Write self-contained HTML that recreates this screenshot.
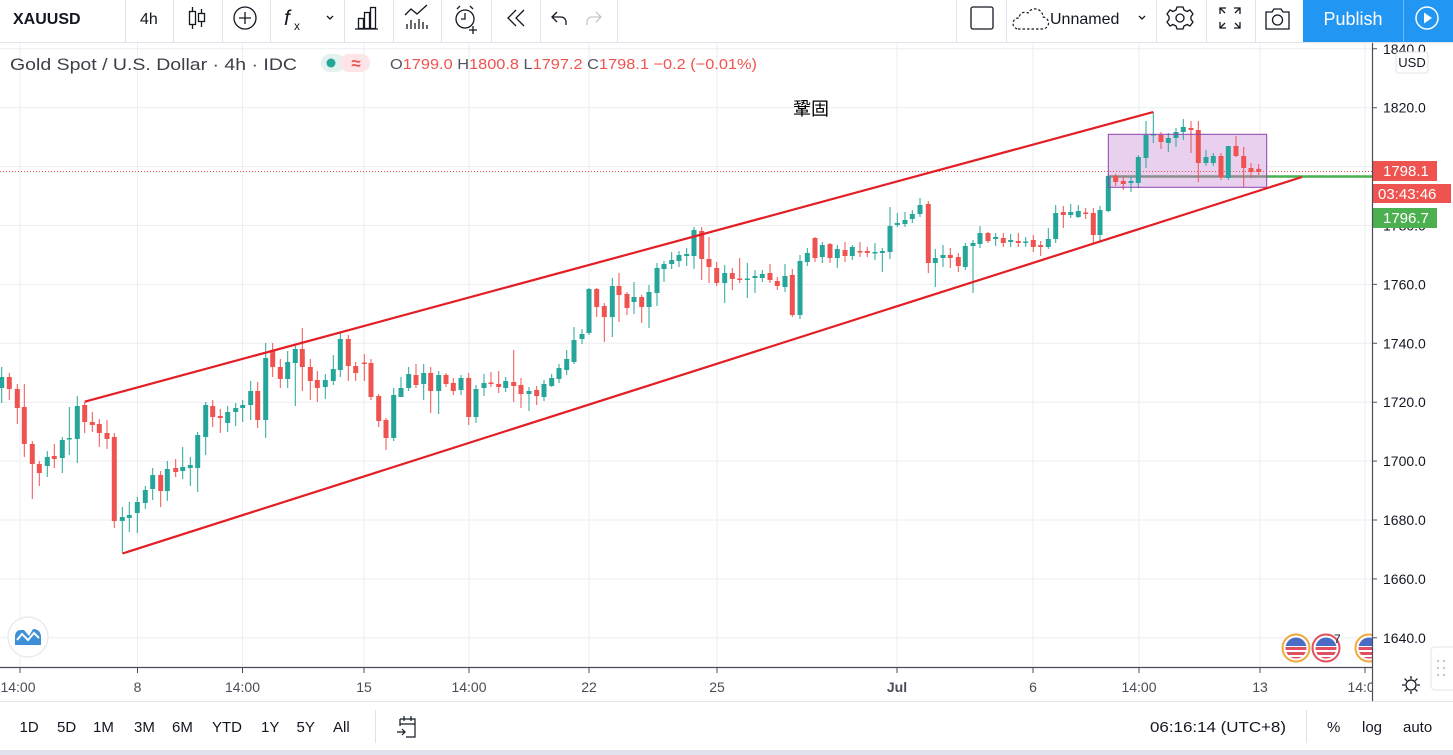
<!DOCTYPE html>
<html><head><meta charset="utf-8">
<style>
html,body{margin:0;padding:0;width:1453px;height:755px;overflow:hidden;background:#fff}
svg{display:block}
text{font-family:"Liberation Sans","Noto Sans CJK TC",sans-serif}
</style></head><body>
<svg width="1453" height="755" viewBox="0 0 1453 755" xmlns="http://www.w3.org/2000/svg">
<defs>
<clipPath id="cc"><rect x="0" y="43" width="1372" height="624"/></clipPath>
<clipPath id="pa"><rect x="1372" y="43" width="81" height="624"/></clipPath>
<clipPath id="xa"><rect x="0" y="668" width="1372" height="33"/></clipPath>
<clipPath id="flag"><circle cx="0" cy="0" r="10.5"/></clipPath>
</defs>
<rect width="1453" height="755" fill="#fff"/>

<!-- ===== CHART AREA ===== -->
<g clip-path="url(#cc)">
  <g stroke="#eceef2" stroke-width="1">
    <path d="M0 48.8H1372M0 107.7H1372M0 166.6H1372M0 225.5H1372M0 284.4H1372M0 343.3H1372M0 402.2H1372M0 461.1H1372M0 520H1372M0 578.9H1372M0 637.8H1372"/>
    <path d="M20 43V667M137.5 43V667M242.5 43V667M364 43V667M469 43V667M589 43V667M717 43V667M897 43V667M1033 43V667M1139 43V667M1260 43V667M1365 43V667"/>
  </g>
  <!-- rectangle fill -->
  <rect x="1108.3" y="134.3" width="158.4" height="53" fill="#ead0ef"/>
  <!-- green horizontal line -->
  <line x1="1108.3" y1="176.5" x2="1266.7" y2="176.5" stroke="#8d8d8d" stroke-width="2.5"/>
  <line x1="1266.7" y1="176.5" x2="1372" y2="176.5" stroke="#4caf50" stroke-width="2.5"/>
  <!-- dotted price line -->
  <line x1="0" y1="171.5" x2="1372" y2="171.5" stroke="#ef5350" stroke-width="1" stroke-dasharray="1 2"/>
  <!-- wicks -->
  <path stroke="#26a69a" stroke-width="1" fill="none" d="M1.7 367V403M47.3 451V477M62.3 437V473M69.3 407V455M77.3 396V463M122.3 507V553M129.3 502V532M137.3 497V533M145.3 486V509M152.7 468V500M167.3 461V501M182.7 447V479M190.3 457V486M197.7 432V492M205.7 402V455M227.7 406V432M235.7 403V426M242.7 400V422M250.7 381V420M265.7 343V438M287.7 351V388M295.3 344V406M325.3 374V399M333.3 355V385M340.3 333V377M393.7 388V441M401 377V397M408.7 367V391M423.7 364V400M438.7 371V414M461 375V395M476 385V423M484 374V396M505.7 377V392M529 387V411M544 380V401M551.7 374V387M559 364V383M566.7 350V375M574 327V364M582 329V344M589 288V335M612.3 278V337M634 282V314M649 285V328M657 263V306M664 261V282M671.7 252V269M679 251V267M686.7 248V266M694 227V269M724.7 265V303M747.3 263V298M755 270V293M762.3 270V282M785 264V292M800 255V319M807.3 248V266M822.3 242V263M837.3 245V268M852.3 245V260M875 243V260M882.3 248V272M890 207V259M897.3 213V227M905 212V227M912.3 210V223M920 198V217M935.3 249V287M943 245V267M965.3 243V270M973 240V293M980 226V248M995.7 233V246M1010.7 234V247M1025.7 237V247M1048.3 228V249M1055.7 205V243M1070.7 204V218M1078.3 205V218M1100 206V242M1108.3 174V212M1131 177V192M1138.3 155V188M1146 121V168M1153.3 112V143M1168.3 133V152M1176 128V147M1183.3 119V140M1206 150V166M1213.3 153V166M1228.3 146V180"/>
  <path stroke="#ef5350" stroke-width="1" fill="none" d="M9.3 373V400M17.3 384V424M24.3 384V457M32.3 441V499M39.3 461V486M54.3 444V468M84.7 402V433M92.3 412V432M99.3 419V447M107 420V449M114.3 433V528M160.7 471V507M175.7 459V477M212.7 400V427M220.3 409V433M257.7 382V428M272.7 343V377M280.3 359V388M302.3 328V391M310.3 359V400M317.3 371V402M348.3 335V381M355.7 362V381M364.3 354V381M371 359V400M378.7 394V427M386 418V450M416 364V388M430.7 367V413M446 373V387M453.3 378V395M468.7 373V425M491 372V387M498.7 371V393M513.7 350V402M521 378V408M536.7 386V405M596.7 288V317M604.3 303V342M619 273V322M627 292V315M641.7 295V323M701.7 227V280M709 237V283M716.7 262V286M732.3 268V290M739.7 258V283M770 264V283M777.3 277V290M792.3 269V317M815 237V262M830 243V263M845 242V262M860 242V257M867.3 247V257M928.3 201V273M950.3 248V268M958.3 253V272M988 232V243M1003.3 233V247M1018.3 233V247M1033.3 235V252M1040.7 241V256M1063.3 206V228M1085.7 208V219M1093.3 208V243M1115.7 174V186M1123.3 177V190M1161 132V149M1191 121V153M1198.3 121V182M1221 153V180M1236 136V157M1243.7 147V187M1251 163V178M1258.7 164V175"/>
  <!-- bodies -->
  <path fill="#26a69a" d="M-0.8 377h5v11h-5zM44.8 457h5v9h-5zM59.8 440h5v18h-5zM66.8 438h5v1.5h-5zM74.8 406h5v33h-5zM119.8 517h5v4h-5zM126.8 515h5v3h-5zM134.8 502h5v11h-5zM142.8 490h5v13h-5zM150.2 475h5v14h-5zM164.8 469h5v22h-5zM180.2 467h5v4h-5zM187.8 465h5v3h-5zM195.2 435h5v33h-5zM203.2 405h5v32h-5zM225.2 412h5v11h-5zM233.2 408h5v4h-5zM240.2 405h5v3h-5zM248.2 391h5v14h-5zM263.2 358h5v62h-5zM285.2 362h5v17h-5zM292.8 349h5v14h-5zM322.8 380h5v7h-5zM330.8 369h5v12h-5zM337.8 339h5v31h-5zM391.2 395h5v43h-5zM398.5 388h5v9h-5zM406.2 374h5v14h-5zM421.2 373h5v11h-5zM436.2 375h5v16h-5zM458.5 378h5v12h-5zM473.5 389h5v28h-5zM481.5 383h5v5h-5zM503.2 381h5v7h-5zM526.5 391h5v3h-5zM541.5 384h5v13h-5zM549.2 378h5v8h-5zM556.5 368h5v11h-5zM564.2 359h5v11h-5zM571.5 340h5v22h-5zM579.5 334h5v5h-5zM586.5 289h5v44h-5zM609.8 286h5v31h-5zM631.5 297h5v5h-5zM646.5 292h5v15h-5zM654.5 268h5v25h-5zM661.5 264h5v5h-5zM669.2 260h5v4h-5zM676.5 255h5v6h-5zM684.2 254h5v2h-5zM691.5 230h5v26h-5zM722.2 273h5v10h-5zM744.8 278.5h5v1.5h-5zM752.5 276h5v2h-5zM759.8 274h5v4h-5zM782.5 276h5v11h-5zM797.5 261h5v54h-5zM804.8 253h5v9h-5zM819.8 245h5v12h-5zM834.8 249h5v9h-5zM849.8 247h5v9h-5zM872.5 252h5v1.5h-5zM879.8 251h5v2h-5zM887.5 226h5v26h-5zM894.8 223h5v2h-5zM902.5 220h5v4h-5zM909.8 214h5v5h-5zM917.5 205h5v9h-5zM932.8 258h5v5h-5zM940.5 255h5v3h-5zM962.8 246h5v21h-5zM970.5 243h5v3h-5zM977.5 233h5v11h-5zM993.2 237h5v2h-5zM1008.2 240h5v2h-5zM1023.2 241.5h5v1.5h-5zM1045.8 239h5v8h-5zM1053.2 213h5v26h-5zM1068.2 212h5v3h-5zM1075.8 211h5v6h-5zM1097.5 210h5v25h-5zM1105.8 176h5v35h-5zM1128.5 181h5v2h-5zM1135.8 157h5v26h-5zM1143.5 135h5v23h-5zM1150.8 134h5v1.5h-5zM1165.8 138h5v5h-5zM1173.5 132h5v6h-5zM1180.8 127h5v5h-5zM1203.5 157h5v6h-5zM1210.8 156h5v7h-5zM1225.8 146h5v32h-5z"/>
  <path fill="#ef5350" d="M6.8 377h5v12h-5zM14.8 389h5v19h-5zM21.8 407h5v37h-5zM29.8 444h5v20h-5zM36.8 464h5v9h-5zM51.8 456h5v3h-5zM82.2 405h5v17h-5zM89.8 422h5v3h-5zM96.8 424h5v9h-5zM104.5 433h5v6h-5zM111.8 437h5v84h-5zM158.2 475h5v16h-5zM173.2 468h5v4h-5zM210.2 406h5v11h-5zM217.8 416h5v2h-5zM255.2 391h5v29h-5zM270.2 350h5v17h-5zM277.8 367h5v12h-5zM299.8 349h5v18h-5zM307.8 367h5v14h-5zM314.8 380h5v8h-5zM345.8 339h5v27h-5zM353.2 366h5v7h-5zM361.8 362.5h5v1.5h-5zM368.5 363h5v34h-5zM376.2 396h5v25h-5zM383.5 420h5v18h-5zM413.5 375h5v10h-5zM428.2 373h5v18h-5zM443.5 375h5v9h-5zM450.8 383h5v8h-5zM466.2 378h5v39h-5zM488.5 382.5h5v1.5h-5zM496.2 384h5v3h-5zM511.2 382h5v4h-5zM518.5 385h5v9h-5zM534.2 390h5v6h-5zM594.2 289h5v18h-5zM601.8 306h5v11h-5zM616.5 286h5v9h-5zM624.5 294h5v14h-5zM639.2 297h5v10h-5zM699.2 231h5v28h-5zM706.5 259h5v8h-5zM714.2 268h5v15h-5zM729.8 273h5v6h-5zM737.2 278.5h5v1.5h-5zM767.5 273h5v7h-5zM774.8 281h5v5h-5zM789.8 275h5v40h-5zM812.5 238h5v20h-5zM827.5 244h5v14h-5zM842.5 250h5v6h-5zM857.5 251h5v1.5h-5zM864.8 251h5v2h-5zM925.8 204h5v59h-5zM947.8 255h5v3h-5zM955.8 257h5v9h-5zM985.5 233h5v8h-5zM1000.8 238h5v5h-5zM1015.8 241h5v2h-5zM1030.8 240h5v7h-5zM1038.2 245h5v2h-5zM1060.8 212h5v3h-5zM1083.2 212.5h5v1.5h-5zM1090.8 213h5v22h-5zM1113.2 176h5v6h-5zM1120.8 181h5v3h-5zM1158.5 135h5v7h-5zM1188.5 128h5v2h-5zM1195.8 130h5v33h-5zM1218.5 156h5v21h-5zM1233.5 146h5v10h-5zM1241.2 156h5v12h-5zM1248.5 168h5v4h-5zM1256.2 169h5v3h-5z"/>
  <!-- rectangle border -->
  <rect x="1108.3" y="134.3" width="158.4" height="53" fill="none" stroke="#8e44ad" stroke-width="1"/>
  <!-- channel lines -->
  <line x1="84.7" y1="401.7" x2="1153.3" y2="112" stroke="#e31e24" stroke-width="2.2"/>
  <line x1="122.5" y1="553.5" x2="1302" y2="177" stroke="#e31e24" stroke-width="2.2"/>
  <!-- annotation -->
  <text x="811" y="115" font-size="18" fill="#000" text-anchor="middle" font-family="'Noto Sans CJK TC','Noto Sans CJK SC',sans-serif">鞏固</text>
  <!-- event icons -->
  <g transform="translate(1296,648)">
    <circle r="13.5" fill="#fff" stroke="#f2a93b" stroke-width="2"/>
    <g clip-path="url(#flag)">
      <rect x="-11" y="-11" width="22" height="22" fill="#fff"/>
      <rect x="-11" y="-1" width="22" height="3" fill="#e0505f"/>
      <rect x="-11" y="4" width="22" height="3" fill="#e0505f"/>
      <rect x="-11" y="9" width="22" height="3" fill="#e0505f"/>
      <rect x="-11" y="-11" width="22" height="9" fill="#4a6cc4"/>
    </g>
  </g>
  <g transform="translate(1326,648)">
    <circle r="13.5" fill="#fff" stroke="#e2505e" stroke-width="2"/>
    <g clip-path="url(#flag)">
      <rect x="-11" y="-11" width="22" height="22" fill="#fff"/>
      <rect x="-11" y="-1" width="22" height="3" fill="#e0505f"/>
      <rect x="-11" y="4" width="22" height="3" fill="#e0505f"/>
      <rect x="-11" y="9" width="22" height="3" fill="#e0505f"/>
      <rect x="-11" y="-11" width="22" height="9" fill="#4a6cc4"/>
    </g>
  </g>
  <text x="1334" y="643" font-size="12" fill="#131722">7</text>
  <g transform="translate(1369,648)">
    <circle r="13.5" fill="#fff" stroke="#f2a93b" stroke-width="2"/>
    <g clip-path="url(#flag)">
      <rect x="-11" y="-11" width="22" height="22" fill="#fff"/>
      <rect x="-11" y="-1" width="22" height="3" fill="#e0505f"/>
      <rect x="-11" y="4" width="22" height="3" fill="#e0505f"/>
      <rect x="-11" y="9" width="22" height="3" fill="#e0505f"/>
      <rect x="-11" y="-11" width="22" height="9" fill="#4a6cc4"/>
    </g>
  </g>
  <!-- logo bubble -->
  <circle cx="28" cy="637" r="20" fill="#fff" stroke="#e6e8ee" stroke-width="1.2"/>
  <path d="M15 645 L15 637 Q15 630 21 630 L24 630 L29 636 L33 629 Q40 629 41 636 L41 645 Z" fill="#3d8fd9"/>
  <path d="M17 640 L22 634 L28 640 L34 633 L39 638" stroke="#fff" stroke-width="2" fill="none"/>
</g>

<!-- legend row -->
<text x="10" y="70" font-size="17" fill="#3c3f48" textLength="287" lengthAdjust="spacingAndGlyphs">Gold Spot / U.S. Dollar · 4h · IDC</text>
<rect x="321" y="54" width="24" height="18" rx="9" fill="#e3f2ef"/>
<rect x="340" y="54" width="30" height="18" rx="9" fill="#fde4e6"/>
<circle cx="331" cy="63" r="4.5" fill="#26a69a"/>
<text x="356" y="69" font-size="17" font-weight="bold" fill="#ef5350" text-anchor="middle">≈</text>
<text x="390" y="69" font-size="15" fill="#ef5350" textLength="367" lengthAdjust="spacingAndGlyphs"><tspan fill="#50535e">O</tspan>1799.0 <tspan fill="#50535e">H</tspan>1800.8 <tspan fill="#50535e">L</tspan>1797.2 <tspan fill="#50535e">C</tspan>1798.1 −0.2 (−0.01%)</text>

<!-- ===== PRICE AXIS ===== -->
<g clip-path="url(#pa)">
  <g stroke="#50535e" stroke-width="1">
    <path d="M1372 48.8h5M1372 107.7h5M1372 166.6h5M1372 225.5h5M1372 284.4h5M1372 343.3h5M1372 402.2h5M1372 461.1h5M1372 520h5M1372 578.9h5M1372 637.8h5"/>
  </g>
  <g font-size="14" fill="#131722">
    <text x="1383" y="53.8">1840.0</text>
    <text x="1383" y="112.7">1820.0</text>
    <text x="1383" y="171.6">1800.0</text>
    <text x="1383" y="230.5">1780.0</text>
    <text x="1383" y="289.4">1760.0</text>
    <text x="1383" y="348.3">1740.0</text>
    <text x="1383" y="407.2">1720.0</text>
    <text x="1383" y="466.1">1700.0</text>
    <text x="1383" y="525">1680.0</text>
    <text x="1383" y="583.9">1660.0</text>
    <text x="1383" y="642.8">1640.0</text>
  </g>
  <rect x="1396" y="52" width="32" height="21" rx="3" fill="#fff" stroke="#e0e3eb"/>
  <text x="1412" y="67" font-size="13" fill="#131722" text-anchor="middle">USD</text>
  <rect x="1373" y="161" width="64" height="20" fill="#ef5350"/>
  <text x="1383" y="176" font-size="15" fill="#fff">1798.1</text>
  <rect x="1373" y="184" width="78" height="19" fill="#ef5350"/>
  <text x="1378" y="199" font-size="15" fill="#fff">03:43:46</text>
  <rect x="1373" y="208" width="64" height="20" fill="#4caf50"/>
  <text x="1383" y="223" font-size="15" fill="#fff">1796.7</text>
</g>
<!-- grip panel -->
<rect x="1431" y="647" width="26" height="43" rx="4" fill="#fff" stroke="#e0e3eb"/>
<g fill="#c5c8cf">
  <circle cx="1438" cy="661" r="1.2"/><circle cx="1444" cy="661" r="1.2"/>
  <circle cx="1438" cy="668" r="1.2"/><circle cx="1444" cy="668" r="1.2"/>
  <circle cx="1438" cy="675" r="1.2"/><circle cx="1444" cy="675" r="1.2"/>
</g>

<!-- axes lines -->
<line x1="0" y1="667.5" x2="1372" y2="667.5" stroke="#4a4d57" stroke-width="1.2"/>
<line x1="1372.5" y1="43" x2="1372.5" y2="701" stroke="#4a4d57" stroke-width="1.2"/>

<!-- ===== TIME AXIS ===== -->
<g clip-path="url(#xa)">
  <path stroke="#4a4d57" stroke-width="1" d="M20 668v5M137.5 668v5M242.5 668v5M364 668v5M469 668v5M589 668v5M717 668v5M897 668v5M1033 668v5M1139 668v5M1260 668v5M1365 668v5"/>
  <g font-size="14" fill="#4a4d57" text-anchor="middle">
    <text x="18" y="692">14:00</text>
    <text x="137.5" y="692">8</text>
    <text x="242.5" y="692">14:00</text>
    <text x="364" y="692">15</text>
    <text x="469" y="692">14:00</text>
    <text x="589" y="692">22</text>
    <text x="717" y="692">25</text>
    <text x="897" y="692" font-weight="bold">Jul</text>
    <text x="1033" y="692">6</text>
    <text x="1139" y="692">14:00</text>
    <text x="1260" y="692">13</text>
    <text x="1365" y="692">14:00</text>
  </g>
</g>
<!-- axis gear -->
<g transform="translate(1411,685)" stroke="#131722" fill="none" stroke-width="1.3">
  <circle r="5"/>
  <path d="M0 -9V-6M0 6V9M-9 0H-6M6 0H9M-6.4 -6.4L-4.2 -4.2M4.2 4.2L6.4 6.4M-6.4 6.4L-4.2 4.2M4.2 -4.2L6.4 -6.4"/>
</g>

<!-- ===== BOTTOM TOOLBAR ===== -->
<line x1="0" y1="701.5" x2="1453" y2="701.5" stroke="#e0e3eb"/>
<rect x="0" y="750" width="1453" height="5" fill="#e0e3eb"/>
<g font-size="15" fill="#131722">
  <text x="19.5" y="732">1D</text>
  <text x="57" y="732">5D</text>
  <text x="93" y="732">1M</text>
  <text x="134" y="732">3M</text>
  <text x="172" y="732">6M</text>
  <text x="212" y="732">YTD</text>
  <text x="261" y="732">1Y</text>
  <text x="296.5" y="732">5Y</text>
  <text x="333" y="732">All</text>
  <text x="1150" y="732" textLength="136" lengthAdjust="spacingAndGlyphs">06:16:14 (UTC+8)</text>
  <text x="1327" y="732">%</text>
  <text x="1362" y="732">log</text>
  <text x="1403" y="732">auto</text>
</g>
<line x1="375.5" y1="710" x2="375.5" y2="743" stroke="#e0e3eb"/>
<line x1="1306.5" y1="710" x2="1306.5" y2="743" stroke="#e0e3eb"/>
<g stroke="#131722" fill="none" stroke-width="1.2">
  <path d="M400 719h15v18h-9M400 719v7M404 716v5M411 716v5M400 724h15"/>
  <path d="M397 732h8M402 729l3 3-3 3"/>
</g>

<!-- ===== TOP TOOLBAR ===== -->
<line x1="0" y1="42.5" x2="1453" y2="42.5" stroke="#e0e3eb"/>
<g stroke="#e0e3eb" stroke-width="1">
  <path d="M125.5 0V42M173.5 0V42M222.5 0V42M270.5 0V42M344.5 0V42M393.5 0V42M441.5 0V42M491.5 0V42M540.5 0V42M617.5 0V42M956.5 0V42M1006.5 0V42M1156.5 0V42M1206.5 0V42M1255.5 0V42"/>
</g>
<text x="13" y="24" font-size="16" font-weight="bold" fill="#131722">XAUUSD</text>
<text x="140" y="24" font-size="16" fill="#131722">4h</text>
<g stroke="#131722" fill="none" stroke-width="1.3">
  <!-- candles icon -->
  <path d="M192.5 7v22M201.5 9v18"/>
  <rect x="189.5" y="11.5" width="6" height="13" fill="#fff"/>
  <rect x="198.5" y="13.5" width="6" height="8" fill="#fff"/>
  <!-- plus circle -->
  <circle cx="245" cy="18" r="11"/>
  <path d="M245 12v12M239 18h12"/>
  <!-- chevron fx -->
  <path d="M327 16l3 3 3-3"/>
  <!-- bars -->
  <path d="M355 29h23"/>
  <rect x="358.5" y="18.5" width="5" height="10"/>
  <rect x="364.5" y="12.5" width="5" height="16"/>
  <rect x="370.5" y="7.5" width="5" height="21"/>
  <!-- indicator -->
  <path d="M405 15l6-6 6 5 10-9"/>
  <path d="M407 29v-5M411 29v-9M415 29v-6M419 29v-10M423 29v-7M427 29v-4"/>
  <!-- alarm -->
  <circle cx="465" cy="19" r="9"/>
  <path d="M465 13v6h-4M457 9l3-3M473 9l-3-3M473 26v8M469 30h8"/>
  <!-- replay -->
  <path d="M516 10l-8 8 8 8M524 10l-8 8 8 8"/>
  <!-- undo -->
  <path d="M557 12l-5 5 5 5M552 17h9a5 5 0 0 1 5 5v3"/>
  <!-- square -->
  <rect x="971" y="7" width="22" height="22" rx="2"/>
  <!-- chevron Unnamed -->
  <path d="M1139 16l3 3 3-3"/>
  <!-- gear -->
  <circle cx="1180" cy="18" r="4"/>
  <path d="M1177 7h6l1 3 3 1.5 3-1.5 3 4-2 2.5v3l2 2.5-3 4-3-1.5-3 1.5-1 3h-6l-1-3-3-1.5-3 1.5-3-4 2-2.5v-3l-2-2.5 3-4 3 1.5 3-1.5z"/>
  <!-- fullscreen -->
  <path d="M1220 14V8h6M1220 8l5 5M1240 14V8h-6M1240 8l-5 5M1220 22v6h6M1220 28l5-5M1240 22v6h-6M1240 28l-5-5"/>
  <!-- camera -->
  <path d="M1266 12h6l2-3h7l2 3h6v17h-23z"/>
  <circle cx="1277.5" cy="20" r="5"/>
</g>
<g stroke="#c3c6ce" fill="none" stroke-width="1.3">
  <path d="M596 12l5 5-5 5M601 17h-9a5 5 0 0 0-5 5v3"/>
</g>
<text x="284" y="25" font-size="21" font-style="italic" fill="#131722" font-family="'Liberation Serif',serif">f</text>
<text x="294" y="30" font-size="12" fill="#131722">x</text>
<!-- cloud -->
<path d="M1018 29h24a6 6 0 0 0 1-12a8 8 0 0 0-15-4a6 6 0 0 0-9 5a5 5 0 0 0-1 11z" fill="none" stroke="#131722" stroke-width="1.2" stroke-dasharray="2.5 2"/>
<text x="1050" y="24" font-size="16" fill="#131722">Unnamed</text>
<!-- publish -->
<rect x="1303" y="0" width="150" height="42" fill="#2196f3"/>
<line x1="1403.5" y1="0" x2="1403.5" y2="42" stroke="#6bb8f7" stroke-width="1"/>
<text x="1353" y="25" font-size="18" fill="#fff" text-anchor="middle">Publish</text>
<circle cx="1427" cy="18" r="11" fill="none" stroke="#fff" stroke-width="1.5"/>
<path d="M1424 12.5v11l8-5.5z" fill="#fff"/>
</svg>
</body></html>
